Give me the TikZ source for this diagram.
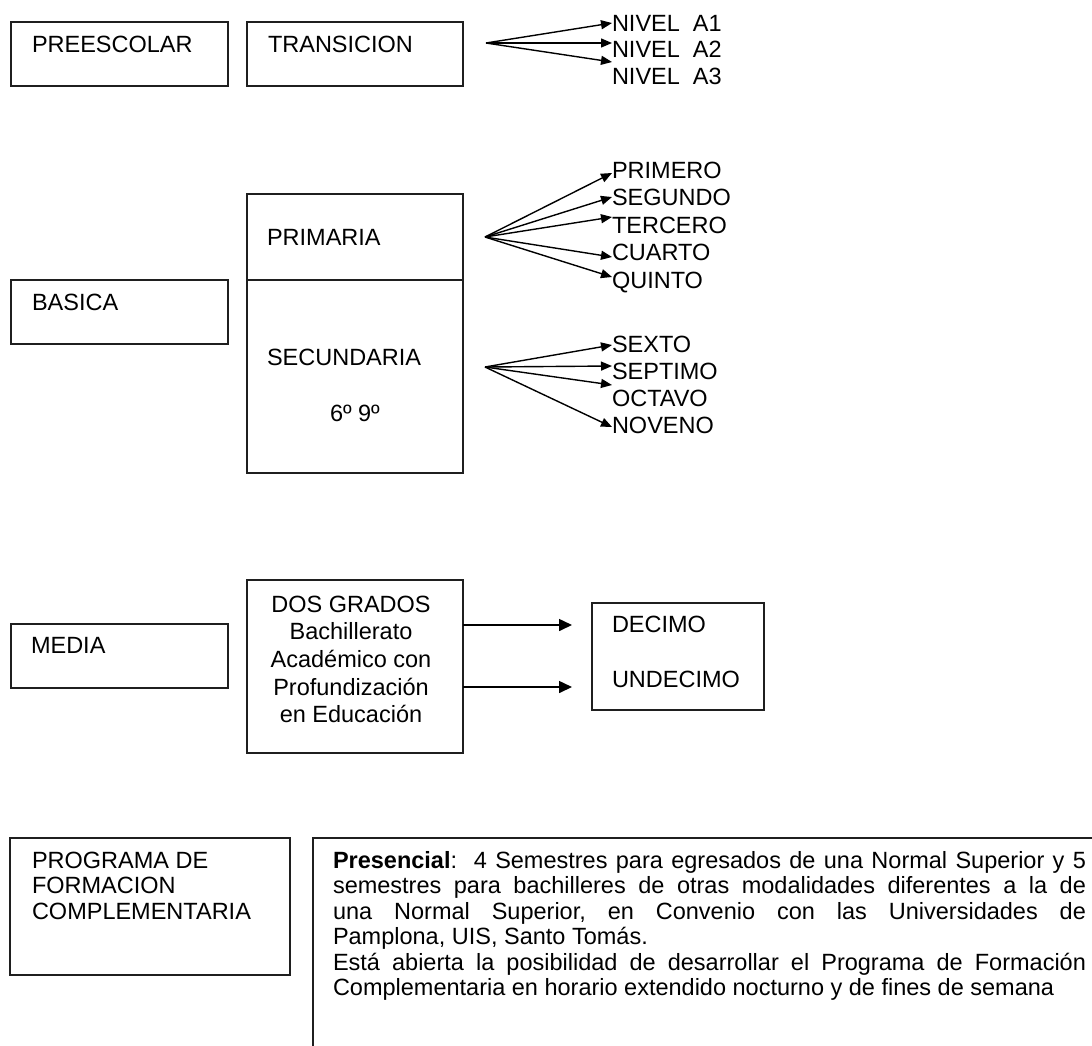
\documentclass[tikz,border=0pt]{standalone}
\usepackage{fontspec}
\setmainfont{Liberation Sans}
\usetikzlibrary{arrows.meta}
\tikzset{
  box/.style={draw=black!88, line width=1.4pt, rectangle, inner sep=0pt, outer sep=0pt, anchor=north west},
  lbl/.style={anchor=base west, inner sep=0pt, outer sep=0pt},
  arr/.style={draw=black, line width=1.4pt, -{Triangle[length=11pt,width=9pt]}},
  bigarr/.style={draw=black, line width=1.6pt, -{Triangle[length=13pt,width=12pt]}},
  divline/.style={draw=black!88, line width=1.4pt},
}
\begin{document}
\begin{tikzpicture}[x=1pt,y=-1pt,font=\fontsize{23.5}{27}\selectfont]
\path[use as bounding box, fill=white] (0,0) rectangle (1092,1045);
\clip (0,0) rectangle (1092,1045);

% ---- Preescolar row
\node[box, minimum width=217pt, minimum height=64pt] (pre) at (11,22) {};
\node[lbl] (preT) at (32,52) {PREESCOLAR};
\node[box, minimum width=216pt, minimum height=64pt] (tra) at (247,22) {};
\node[lbl] (traT) at (268,52) {TRANSICION};
\coordinate (tro) at (486,43);
\node[lbl] (a1) at (612,31) {NIVEL\ \ A1};
\node[lbl] (a2) at (612,57.5) {NIVEL\ \ A2};
\node[lbl] (a3) at (612,84) {NIVEL\ \ A3};
\coordinate (ta1) at (612,23);
\coordinate (ta2) at (612,43);
\coordinate (ta3) at (612,62);
\draw[arr] (tro) -- (ta1);
\draw[arr] (tro) -- (ta2);
\draw[arr] (tro) -- (ta3);

% ---- Basica
\node[box, minimum width=217pt, minimum height=64pt] (bas) at (11,280) {};
\node[lbl] (basT) at (32,310) {BASICA};
\node[box, minimum width=216pt, minimum height=279pt] (bps) at (247,194) {};
\draw[divline] (bps.west |- bas.north) -- (bps.east |- bas.north);
\node[lbl] (priT) at (267,245) {PRIMARIA};
\node[lbl] (secT) at (267,365) {SECUNDARIA};
\node[lbl] (gradT) at (330,421) {6º 9º};

\coordinate (po) at (485,237);
\node[lbl] (p1) at (612,178) {PRIMERO};
\node[lbl] (p2) at (612,205.5) {SEGUNDO};
\node[lbl] (p3) at (612,233) {TERCERO};
\node[lbl] (p4) at (612,260.5) {CUARTO};
\node[lbl] (p5) at (612,288) {QUINTO};
\coordinate (tp1) at (612,173);
\coordinate (tp2) at (612,197);
\coordinate (tp3) at (612,217);
\coordinate (tp4) at (612,257);
\coordinate (tp5) at (612,277);
\foreach \i in {1,...,5} {\draw[arr] (po) -- (tp\i);}

\coordinate (so) at (485,367);
\node[lbl] (s1) at (612,352) {SEXTO};
\node[lbl] (s2) at (612,379) {SEPTIMO};
\node[lbl] (s3) at (612,406) {OCTAVO};
\node[lbl] (s4) at (612,433) {NOVENO};
\coordinate (ts1) at (612,345);
\coordinate (ts2) at (612,366);
\coordinate (ts3) at (612,385);
\coordinate (ts4) at (612,427);
\foreach \i in {1,...,4} {\draw[arr] (so) -- (ts\i);}

% ---- Media
\node[box, minimum width=217pt, minimum height=64pt] (med) at (11,624) {};
\node[lbl] (medT) at (31,653) {MEDIA};
\node[box, minimum width=216pt, minimum height=173pt] (dos) at (247,580) {};
\node[anchor=base, inner sep=0pt] (dosT) at (351,612)
  {\parbox[t]{210pt}{\fontsize{23.5}{27.7}\selectfont\centering
   DOS GRADOS\\ Bachillerato\\ Académico con\\ Profundización\\ en Educación}};
\node[box, minimum width=172pt, minimum height=107pt] (dec) at (592,603) {};
\node[lbl] (decT) at (612,632) {DECIMO};
\node[lbl] (undT) at (612,687) {UNDECIMO};
\coordinate (td1) at (572,625);
\coordinate (td2) at (572,687);
\draw[bigarr] (dos.east |- td1) -- (td1);
\draw[bigarr] (dos.east |- td2) -- (td2);

% ---- Programa de formacion complementaria
\node[box, minimum width=280pt, minimum height=137pt] (pfc) at (10,838) {};
\node[lbl] (pfcT) at (32,868)
  {\parbox[t]{255pt}{\fontsize{23.5}{25.5}\selectfont\raggedright
   PROGRAMA DE\\ FORMACION\\ COMPLEMENTARIA}};
\node[box, minimum width=850pt, minimum height=300pt] (pres) at (313,838) {};
\node[lbl] (presT) at (333,868)
  {\parbox[t]{753pt}{\fontsize{23.5}{25.5}\selectfont\frenchspacing
   \hyphenpenalty=10000 \tolerance=10000 \hbadness=10000 \parindent=0pt
   \textbf{Presencial}:\ \ 4 Semestres para egresados de una Normal Superior y 5\linebreak
   semestres para bachilleres de otras modalidades diferentes a la de\linebreak
   una Normal Superior, en Convenio con las Universidades de\linebreak
   Pamplona, UIS, Santo Tomás.\\
   Está abierta la posibilidad de desarrollar el Programa de Formación\linebreak
   Complementaria en horario extendido nocturno y de fines de semana}};
\end{tikzpicture}
\end{document}
